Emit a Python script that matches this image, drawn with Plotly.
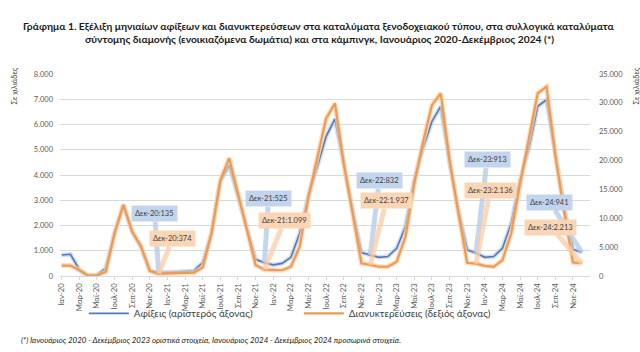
import plotly.graph_objects as go

# ---- data (thousands) ----
years = ["20", "21", "22", "23", "24"]
month_names = ["Ιαν", "Φεβ", "Μαρ", "Απρ", "Μαϊ", "Ιουν", "Ιουλ", "Αυγ", "Σεπ", "Οκτ", "Νοε", "Δεκ"]
months = [f"{m}-{y}" for y in years for m in month_names]

arrivals = [
    830, 860, 250, 20, 40, 310, 1690, 2820, 1760, 1160, 210, 135,
    150, 160, 175, 200, 530, 1700, 3740, 4400, 3150, 1900, 660, 525,
    440, 500, 740, 1690, 3210, 4340, 5530, 6220, 4340, 2620, 925, 832,
    740, 770, 1100, 1960, 3810, 5070, 6120, 6720, 4470, 2620, 1030, 913,
    740, 770, 1100, 2090, 3810, 5070, 6720, 6980, 4700, 2700, 1050, 941,
]
overnights = [
    1800, 1800, 1000, 60, 80, 750, 7400, 12300, 7700, 5100, 900, 374,
    450, 480, 500, 560, 1500, 7400, 16600, 20400, 14300, 8000, 1900, 1099,
    1040, 1000, 1610, 5080, 13700, 20400, 27300, 29900, 19500, 10900, 2200, 1937,
    1610, 1600, 2480, 6800, 16060, 23270, 29600, 31650, 20100, 10900, 2300, 2136,
    1750, 1600, 2770, 7400, 16000, 23850, 31650, 32800, 21000, 11000, 2350, 2213,
]
left_ticks = [0, 1000, 2000, 3000, 4000, 5000, 6000, 7000, 8000]
right_ticks = [0, 5000, 10000, 15000, 20000, 25000, 30000, 35000]

def fmt(v):
    return f"{v:,}".replace(",", ".")

x = list(range(len(months)))
tickvals = x[::2]
ticktext = months[::2]

BLUE = "#5679B0"
ORANGE = "#EE9A50"
BLUE_HALO = "rgba(190,208,234,0.7)"
ORANGE_HALO = "rgba(250,210,175,0.7)"
BLUE_BOX = "#C3D5ED"
ORANGE_BOX = "#FBD6B6"
BLUE_WEDGE = "rgba(180,202,232,0.75)"
ORANGE_WEDGE = "rgba(250,205,168,0.75)"
FONT = "Lato"

fig = go.Figure()
fig.add_trace(go.Scatter(x=x, y=arrivals, mode="lines", line=dict(color=BLUE_HALO, width=4.5),
                         showlegend=False, hoverinfo="skip", yaxis="y"))
fig.add_trace(go.Scatter(x=x, y=overnights, mode="lines", line=dict(color=ORANGE_HALO, width=5),
                         showlegend=False, hoverinfo="skip", yaxis="y2"))
fig.add_trace(go.Scatter(x=x, y=arrivals, mode="lines", name="Αφίξεις (αριστερός άξονας)",
                         line=dict(color=BLUE, width=1.6), yaxis="y"))
fig.add_trace(go.Scatter(x=x, y=overnights, mode="lines", name="Διανυκτερεύσεις (δεξιός άξονας)",
                         line=dict(color=ORANGE, width=2.2), yaxis="y2"))

# callouts for December values
callouts = [
    (11, "y", BLUE_BOX, BLUE_WEDGE, -4, -59),
    (11, "y2", ORANGE_BOX, ORANGE_WEDGE, 14, -35),
    (23, "y", BLUE_BOX, BLUE_WEDGE, 4, -64),
    (23, "y2", ORANGE_BOX, ORANGE_WEDGE, 20, -49),
    (35, "y", BLUE_BOX, BLUE_WEDGE, 9, -74),
    (35, "y2", ORANGE_BOX, ORANGE_WEDGE, 16, -64),
    (47, "y", BLUE_BOX, BLUE_WEDGE, 11, -93),
    (47, "y2", ORANGE_BOX, ORANGE_WEDGE, 14, -73),
    (59, "y", BLUE_BOX, BLUE_WEDGE, -32, -50),
    (59, "y2", ORANGE_BOX, ORANGE_WEDGE, -31, -36),
]
annotations = []
for idx, yref, col, wcol, ax, ay in callouts:
    val = arrivals[idx] if yref == "y" else overnights[idx]
    annotations.append(dict(
        x=idx, y=val, xref="x", yref=yref,
        text=f"{months[idx]}:{fmt(val)}",
        showarrow=True, arrowhead=0, arrowwidth=5, arrowcolor=wcol,
        ax=ax, ay=ay, bgcolor=col, borderpad=3,
        font=dict(family=FONT, size=7.5, color="#404040"),
    ))

annotations += [
    dict(text="<b>Γράφημα 1. Εξέλιξη μηνιαίων αφίξεων και διανυκτερεύσεων στα καταλύματα ξενοδοχειακού τύπου, στα συλλογικά καταλύματα</b>",
         xref="paper", yref="paper", x=0.5, y=1, xanchor="center", yanchor="bottom", yshift=40, xshift=-6,
         showarrow=False, font=dict(family=FONT, size=10.3, color="#1a1a1a")),
    dict(text="<b>σύντομης διαμονής (ενοικιαζόμενα δωμάτια) και στα κάμπινγκ, Ιανουάριος 2020-Δεκέμβριος 2024 (*)</b>",
         xref="paper", yref="paper", x=0.5, y=1, xanchor="center", yanchor="bottom", yshift=27, xshift=-6,
         showarrow=False, font=dict(family=FONT, size=10.3, color="#1a1a1a")),
    dict(text="Σε χιλιάδες", xref="paper", yref="paper", x=0, y=1, xshift=-46, yshift=8,
         xanchor="center", yanchor="top", textangle=-90, showarrow=False,
         font=dict(family=FONT, size=7.5, color="#404040")),
    dict(text="Σε χιλιάδες", xref="paper", yref="paper", x=1, y=1, xshift=46, yshift=8,
         xanchor="center", yanchor="top", textangle=-90, showarrow=False,
         font=dict(family=FONT, size=7.5, color="#404040")),
    dict(text="<i>(*) Ιανουάριος 2020 - Δεκέμβριος 2023 οριστικά στοιχεία, Ιανουάριος 2024 - Δεκέμβριος 2024 προσωρινά στοιχεία.</i>",
         xref="paper", yref="paper", x=0, y=0, xshift=-41, yshift=-64,
         xanchor="left", yanchor="middle", showarrow=False,
         font=dict(family=FONT, size=7.9, color="#1a1a1a")),
]

fig.update_layout(
    width=640, height=352,
    margin=dict(l=60, r=50, t=74, b=76),
    paper_bgcolor="white", plot_bgcolor="white",
    font=dict(family=FONT, color="#595959"),
    showlegend=True,
    legend=dict(orientation="h", x=0.045, xanchor="left", y=-0.185, yanchor="middle",
                bgcolor="rgba(0,0,0,0)",
                font=dict(family=FONT, size=10, color="#404040"),
                itemwidth=40, tracegroupgap=0, entrywidth=160),
    annotations=annotations,
    xaxis=dict(range=[-0.19, 59.93], tickmode="array", tickvals=tickvals, ticktext=ticktext,
               tickangle=-90, tickfont=dict(family=FONT, size=7.8, color="#595959"),
               showgrid=False, showline=True, linecolor="#D9D9D9", linewidth=1,
               ticks="outside", ticklen=3, tickcolor="#D9D9D9", zeroline=False, fixedrange=True),
    yaxis=dict(range=[0, 8000], tickmode="array", tickvals=left_ticks,
               ticktext=[fmt(v) for v in left_ticks],
               tickfont=dict(family=FONT, size=7.5, color="#595959"),
               showgrid=True, gridcolor="#D9D9D9", gridwidth=1, zeroline=False, showline=False,
               ticks="", ticklabelstandoff=6),
    yaxis2=dict(range=[0, 35000], overlaying="y", side="right", tickmode="array", tickvals=right_ticks,
                ticktext=[fmt(v) for v in right_ticks],
                tickfont=dict(family=FONT, size=7.5, color="#595959"),
                showgrid=False, zeroline=False, showline=False, ticks="", ticklabelstandoff=8),
)

fig.write_html("out.html")
